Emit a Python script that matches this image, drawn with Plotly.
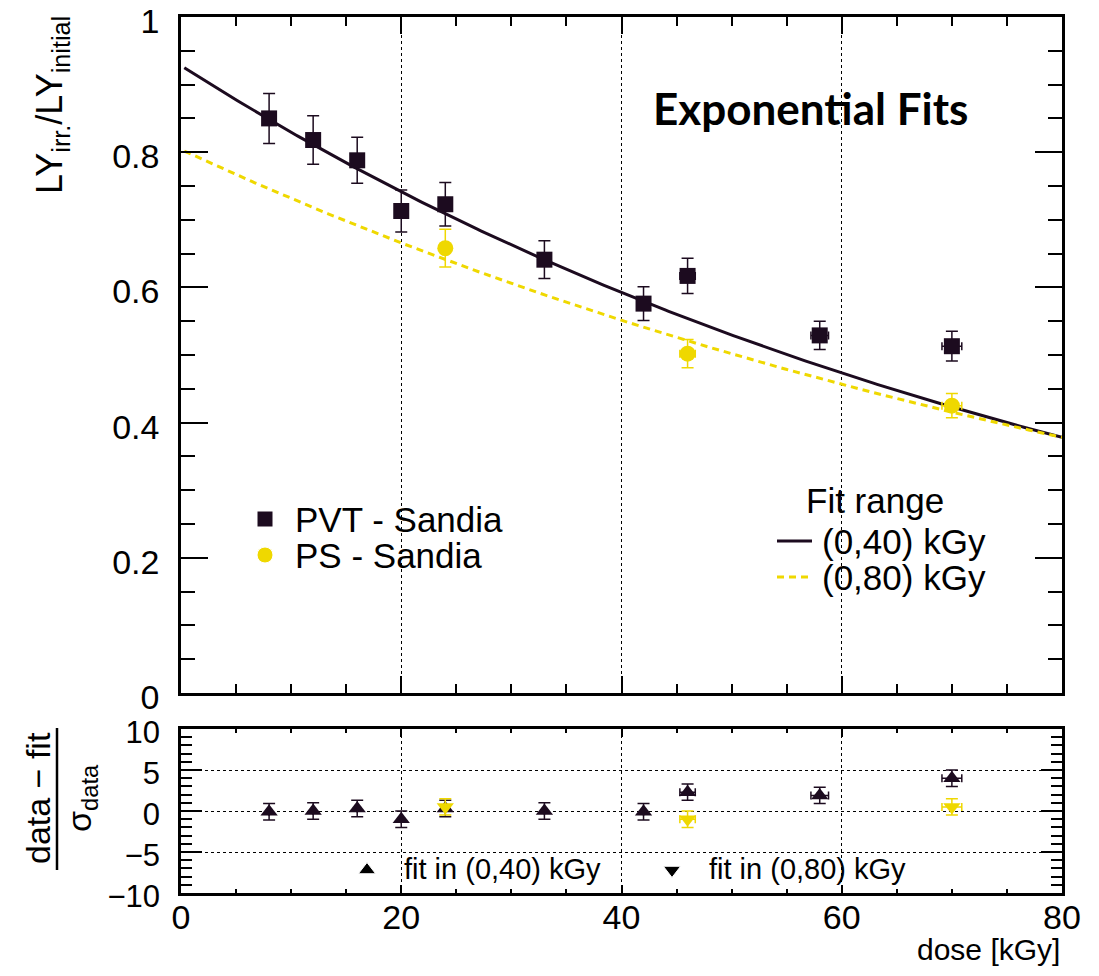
import numpy as np
import plotly.graph_objects as go

# ---------------- data ----------------
dose_pvt = [8, 12, 16, 20, 24, 33, 42, 46, 58, 70]
ly_pvt = [0.850, 0.818, 0.788, 0.713, 0.723, 0.641, 0.576, 0.617, 0.529, 0.513]
ly_pvt_err = [0.037, 0.036, 0.034, 0.031, 0.032, 0.028, 0.025, 0.026, 0.021, 0.022]
dose_pvt_err = [0, 0, 0, 0, 0, 0, 0, 0.7, 0.8, 0.9]

dose_ps = [24, 46, 70]
ly_ps = [0.658, 0.502, 0.425]
ly_ps_err = [0.028, 0.021, 0.018]
dose_ps_err = [0, 0.7, 0.9]

# exponential fits: LY = norm * exp(-slope * dose)
fit40_norm, fit40_slope = 0.928, 0.01122
fit80_norm, fit80_slope = 0.804, 0.00943

# pulls (data - fit) / sigma
pull_fit40 = [-0.1, 0.0, 0.3, -1.0, 0.3, 0.0, -0.1, 2.3, 1.9, 4.0]
pull_fit80 = [0.5, -1.0, 0.5]
pull_err = 1.0

x_ticks = [0, 20, 40, 60, 80]

# ---------------- styling ----------------
DARK = "#1c0b1f"
YELLOW = "#efd800"
FONT = "Liberation Sans, Arial, sans-serif"

W, H = 1099, 976
ML, MR, MT, MB = 181, 37, 17, 83
PW, PH = W - ML - MR, H - MT - MB


def px(xp):
    return (xp - ML) / PW


def py(yp):
    return (H - MB - yp) / PH


fig = go.Figure()

# fit curves
dose_grid = np.linspace(0.3, 80, 300)
fig.add_trace(go.Scatter(
    x=dose_grid, y=fit40_norm * np.exp(-fit40_slope * dose_grid),
    mode="lines", line=dict(color=DARK, width=3), xaxis="x", yaxis="y",
    showlegend=False, hoverinfo="skip"))
fig.add_trace(go.Scatter(
    x=dose_grid, y=fit80_norm * np.exp(-fit80_slope * dose_grid),
    mode="lines", line=dict(color=YELLOW, width=3, dash="7px,5px"),
    xaxis="x", yaxis="y", showlegend=False, hoverinfo="skip"))

# measured light yield
fig.add_trace(go.Scatter(
    x=dose_pvt, y=ly_pvt, mode="markers", xaxis="x", yaxis="y",
    marker=dict(symbol="square", size=16, color=DARK, opacity=1),
    error_y=dict(type="data", array=ly_pvt_err, color=DARK, thickness=1.5, width=6),
    error_x=dict(type="data", array=dose_pvt_err, color=DARK, thickness=1.5, width=4),
    showlegend=False))
fig.add_trace(go.Scatter(
    x=dose_ps, y=ly_ps, mode="markers", xaxis="x", yaxis="y",
    marker=dict(symbol="circle", size=16, color=YELLOW, opacity=1),
    error_y=dict(type="data", array=ly_ps_err, color=YELLOW, thickness=1.5, width=6),
    error_x=dict(type="data", array=dose_ps_err, color=YELLOW, thickness=1.5, width=4),
    showlegend=False))

# pulls
fig.add_trace(go.Scatter(
    x=dose_pvt, y=pull_fit40, mode="markers", xaxis="x2", yaxis="y2",
    marker=dict(symbol="triangle-up", size=15, color=DARK, opacity=1),
    error_y=dict(type="constant", value=pull_err, color=DARK, thickness=1.5, width=6),
    error_x=dict(type="data", array=dose_pvt_err, color=DARK, thickness=1.5, width=4),
    showlegend=False))
fig.add_trace(go.Scatter(
    x=dose_ps, y=pull_fit80, mode="markers", xaxis="x2", yaxis="y2",
    marker=dict(symbol="triangle-down", size=15, color=YELLOW, opacity=1),
    error_y=dict(type="constant", value=pull_err, color=YELLOW, thickness=1.5, width=6),
    error_x=dict(type="data", array=dose_ps_err, color=YELLOW, thickness=1.5, width=4),
    showlegend=False))

# legend symbols on a transparent full-frame overlay
key_x = [px(265), px(265), px(367), px(672)]
key_y = [py(519), py(555), py(870), py(870)]
key_sym = ["square", "circle", "triangle-up", "triangle-down"]
key_col = [DARK, YELLOW, "black", "black"]
key_size = [16, 16, 15, 15]
fig.add_trace(go.Scatter(
    x=key_x, y=key_y, mode="markers", xaxis="x3", yaxis="y3",
    marker=dict(symbol=key_sym, color=key_col, size=key_size, opacity=1),
    showlegend=False, hoverinfo="skip"))

frame = dict(showline=True, linewidth=2.5, linecolor="black", mirror="allticks",
             zeroline=False, ticks="inside", tickcolor="black", tickwidth=1.5,
             automargin=False, ticklabeloverflow="allow")

fig.update_layout(
    width=W, height=H,
    margin=dict(l=ML, r=MR, t=MT, b=MB, autoexpand=False),
    paper_bgcolor="white", plot_bgcolor="rgba(0,0,0,0)",
    font=dict(family=FONT, color="black"),
    xaxis=dict(**frame, domain=[0, 1], anchor="y", range=[0, 80],
               tickvals=x_ticks, showticklabels=False, ticklen=17,
               minor=dict(ticks="inside", ticklen=9, dtick=5, tickcolor="black", tickwidth=1.5),
               showgrid=True, gridcolor="black", griddash="dot", gridwidth=1.3),
    yaxis=dict(**frame, domain=[py(693), 1], anchor="x", range=[0, 1],
               dtick=0.2, ticklen=27, tickfont=dict(size=34), ticklabelstandoff=12,
               ticklabelshift=4,
               minor=dict(ticks="inside", ticklen=14, dtick=0.05, tickcolor="black", tickwidth=1.5),
               showgrid=False),
    xaxis2=dict(**frame, domain=[0, 1], anchor="y2", range=[0, 80],
                tickvals=x_ticks, ticklen=8, tickfont=dict(size=34), ticklabelstandoff=-8,
                minor=dict(ticks="inside", ticklen=4, dtick=5, tickcolor="black", tickwidth=1.5),
                showgrid=True, gridcolor="black", griddash="dot", gridwidth=1.3),
    yaxis2=dict(**frame, domain=[0, py(729)], anchor="x2", range=[-10, 10],
                dtick=5, ticklen=21, tickfont=dict(size=31), ticklabelstandoff=12,
                ticklabelshift=3,
                minor=dict(ticks="inside", ticklen=11, dtick=1, tickcolor="black", tickwidth=1.5),
                showgrid=True, gridcolor="black", griddash="dot", gridwidth=1.3),
    xaxis3=dict(domain=[0, 1], range=[0, 1], visible=False, anchor="y3", fixedrange=True),
    yaxis3=dict(domain=[0, 1], range=[0, 1], visible=False, anchor="x3", fixedrange=True),
)

ann = []


def text(t, xp, yp, size, xanchor="left", yanchor="middle", angle=0, **kw):
    ann.append(dict(text=t, x=px(xp), y=py(yp), xref="paper", yref="paper",
                    xanchor=xanchor, yanchor=yanchor, textangle=angle, showarrow=False,
                    font=dict(size=size, family=kw.pop("family", FONT), color="black",
                              weight=kw.pop("weight", "normal"))))


text("Exponential Fits", 810, 108, 44, xanchor="center", family="Lato", weight=700)
text("PVT - Sandia", 293, 519, 35)
text("PS - Sandia", 293, 555, 35)
text("Fit range", 875, 500, 35, xanchor="center")
text("(0,40) kGy", 820, 541, 35)
text("(0,80) kGy", 820, 577, 35)
text("fit in (0,40) kGy", 402, 869, 29)
text("fit in (0,80) kGy", 707, 869, 29)
text("dose [kGy]", 1062, 950, 30, xanchor="right")
text("LY<sub>irr.</sub>/LY<sub>initial</sub>", 52, 14, 36, xanchor="center", yanchor="top", angle=-90)
text("data − fit", 38, 798, 34, xanchor="center", angle=-90)
text("σ<sub>data</sub>", 81, 798, 34, xanchor="center", angle=-90)

fig.update_layout(annotations=ann)

# legend line samples and fraction bar
fig.add_shape(type="line", xref="paper", yref="paper",
              x0=px(777), x1=px(812), y0=py(541), y1=py(541),
              line=dict(color=DARK, width=3))
fig.add_shape(type="line", xref="paper", yref="paper",
              x0=px(777), x1=px(812), y0=py(577), y1=py(577),
              line=dict(color=YELLOW, width=3, dash="7px,5px"))
fig.add_shape(type="line", xref="paper", yref="paper",
              x0=px(57), x1=px(57), y0=py(728), y1=py(870),
              line=dict(color="black", width=2.5))

fig.write_html("out.html")
